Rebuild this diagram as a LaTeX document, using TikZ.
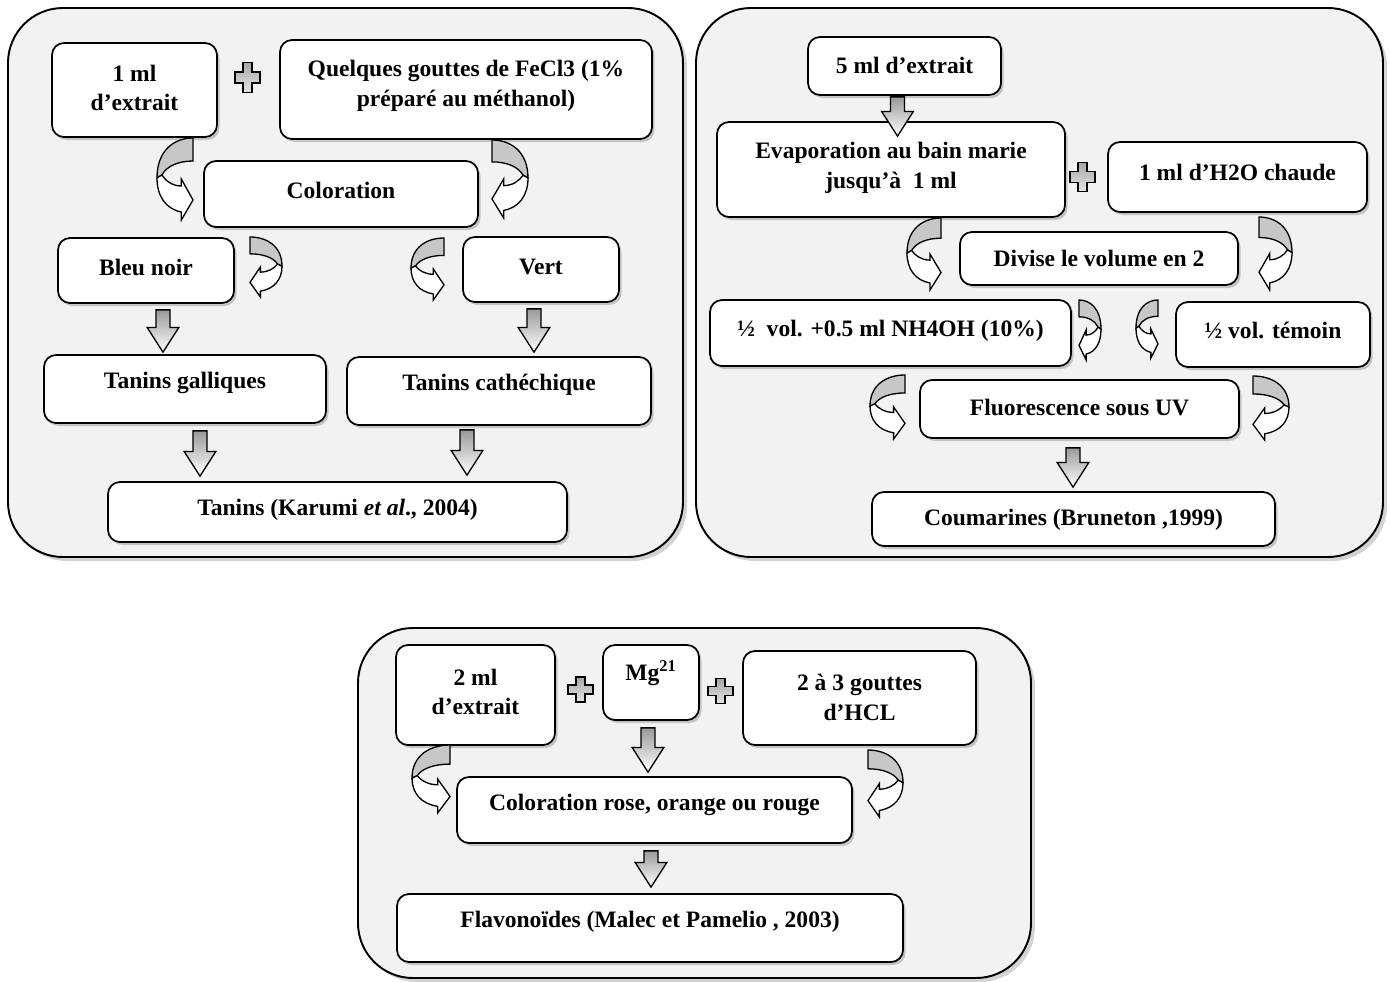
\documentclass[tikz,border=0pt]{standalone}
\usepackage{fontspec}
\setmainfont{Liberation Serif}
\usetikzlibrary{positioning,calc,shadows}

\tikzset{
  sz/.style 2 args={minimum width=#1*0.02cm, minimum height=#2*0.02cm},
  panel/.style={draw, line width=1.1pt, fill=black!5, rounded corners=1.1cm, inner sep=0pt,
    drop shadow={shadow xshift=0.08cm, shadow yshift=-0.08cm, opacity=0.35}},
  stepbox/.style={draw, line width=1pt, fill=white, rounded corners=0.24cm, inner sep=0pt,
    drop shadow={shadow xshift=0.05cm, shadow yshift=-0.06cm, opacity=0.4}},
  lbl/.style={font=\fontsize{13.4}{17}\selectfont\bfseries, align=center, inner sep=0pt},
  blockarr/.style={draw, line width=0.75pt, top color=black!40, bottom color=white,
    to path={let \p1=(\tikztostart), \p2=(\tikztotarget) in
      (\x1-4pt,\y1) -- (\x1+4pt,\y1) -- (\x1+4pt,\y2+14pt) -- (\x1+9pt,\y2+14pt)
      -- (\x1,\y2) -- (\x1-9pt,\y2+14pt) -- (\x1-4pt,\y2+14pt) -- cycle}},
  curvarr/.pic={
    \draw[line width=0.75pt, fill=black!22] (37,0) -- (37,23) .. controls (22,23) and (10,28) .. (5,37)
      -- (0,40) .. controls (0,12) and (18,0) .. (37,0) -- cycle;
    \draw[line width=0.75pt, fill=white] (0,40) .. controls (0,58) and (9,71) .. (25,74) -- (25,82)
      -- (37,62) -- (25,41) -- (25,48) .. controls (16,48) and (9,43) .. (5,37) -- cycle;
  },
  plussign/.pic={
    \draw[line width=0.7pt, top color=black!35, bottom color=black!10]
      (-4.5,-12.5) -- (4.5,-12.5) -- (4.5,-4.5) -- (12.5,-4.5) -- (12.5,4.5) -- (4.5,4.5)
      -- (4.5,12.5) -- (-4.5,12.5) -- (-4.5,4.5) -- (-12.5,4.5) -- (-12.5,-4.5) -- (-4.5,-4.5) -- cycle;
  }
}

\begin{document}
\begin{tikzpicture}[x=0.02cm, y=-0.02cm]
  \useasboundingbox (0,0) rectangle (1390,981);

  % panels
  \node[panel, sz={675}{549}] (pantan) at (345.5,282.5) {};
  \node[panel, sz={687}{549}] (pancou) at (1039.5,282.5) {};
  \node[panel, sz={673}{350}] (panfla) at (694.5,803) {};

  % tanins
  \node[stepbox, sz={165}{94}] (ext1) at (134.5,90) {};
  \node[lbl] (ext1-t) at (134.5,88) {1 ml\\d’extrait};
  \node[stepbox, sz={372}{99}] (quel) at (466,89.5) {};
  \node[lbl] (quel-t) at (466,86) {Quelques gouttes de FeCl3 (1\%\\préparé au méthanol)};
  \node[stepbox, sz={274}{66}] (colo) at (341,194) {};
  \node[lbl] (colo-t) at (341,190) {Coloration};
  \node[stepbox, sz={176}{65}] (bleu) at (146,270.5) {};
  \node[lbl] (bleu-t) at (146,267) {Bleu noir};
  \node[stepbox, sz={156}{65}] (vert) at (541,269.5) {};
  \node[lbl] (vert-t) at (541,267) {Vert};
  \node[stepbox, sz={282}{68}] (gall) at (185,389) {};
  \node[lbl] (gall-t) at (185,383) {Tanins galliques};
  \node[stepbox, sz={304}{68}] (cath) at (499,391) {};
  \node[lbl] (cath-t) at (499,385) {Tanins cathéchique};
  \node[stepbox, sz={459}{60}] (tanins) at (337.5,512) {};
  \node[lbl] (tanins-t) at (337.5,510) {Tanins (Karumi \textit{et al}., 2004)};

  % coumarines
  \node[stepbox, sz={193}{58}] (cinq) at (904.5,66) {};
  \node[lbl] (cinq-t) at (904.5,65) {5 ml d’extrait};
  \node[stepbox, sz={348}{95}] (evap) at (891,169.5) {};
  \node[lbl] (evap-t) at (891,168) {Evaporation au bain marie\\jusqu’à~ 1 ml};
  \node[stepbox, sz={259}{70}] (hdo) at (1237.5,177) {};
  \node[lbl] (hdo-t) at (1237.5,172) {1 ml d’H2O chaude};
  \node[stepbox, sz={278}{53}] (divi) at (1099,258.5) {};
  \node[lbl] (divi-t) at (1099,258) {Divise le volume en 2};
  \node[stepbox, sz={361}{66}] (nhoh) at (890.5,333) {};
  \node[lbl] (nhoh-t) at (890.5,331) {½~ vol. +0.5 ml NH4OH (10\%)};
  \node[stepbox, sz={194}{65}] (temo) at (1273,334.5) {};
  \node[lbl] (temo-t) at (1273,330) {½ vol. témoin};
  \node[stepbox, sz={319}{58}] (fluo) at (1079.5,409) {};
  \node[lbl] (fluo-t) at (1079.5,408) {Fluorescence sous UV};
  \node[stepbox, sz={403}{54}] (coum) at (1073.5,519) {};
  \node[lbl] (coum-t) at (1073.5,520) {Coumarines (Bruneton ,1999)};

  % flavonoides
  \node[stepbox, sz={159}{100}] (ext3) at (475.5,695) {};
  \node[lbl] (ext3-t) at (475.5,692) {2 ml\\d’extrait};
  \node[stepbox, sz={96}{75}] (mg) at (651,682.5) {};
  \node[lbl] (mg-t) at (651,673) {Mg\textsuperscript{21}};
  \node[stepbox, sz={233}{94}] (hcl) at (859.5,698) {};
  \node[lbl] (hcl-t) at (859.5,697) {2 à 3 gouttes\\d’HCL};
  \node[stepbox, sz={395}{66}] (rose) at (654.5,810) {};
  \node[lbl] (rose-t) at (654.5,805) {Coloration rose, orange ou rouge};
  \node[stepbox, sz={506}{68}] (flav) at (650,928) {};
  \node[lbl] (flav-t) at (650,922) {Flavonoïdes (Malec et Pamelio , 2003)};

  % plus signs
  \pic[yscale=1.2] at (247.5,77.5) {plussign};
  \pic[yscale=1.15] at (1082.5,177) {plussign};
  \pic at (580.5,689.5) {plussign};
  \pic at (720.5,691) {plussign};

  % block arrows
  \draw[blockarr] ([shift={(17,6)}]bleu.south) to ([shift={(0,-2)}]gall.north);
  \draw[blockarr] ([shift={(-7,6)}]vert.south) to ([shift={(0,-4)}]cath.north);
  \draw[blockarr] ([shift={(15,7)}]gall.south) to ([shift={(0,-5)}]tanins.north);
  \draw[blockarr] ([shift={(-32,4)}]cath.south) to ([shift={(0,-6)}]tanins.north);
  \draw[blockarr] ([shift={(-7,1)}]cinq.south) to ([shift={(0,15)}]evap.north);
  \draw[blockarr] ([shift={(-6.5,9)}]fluo.south) to ([shift={(0,-4)}]coum.north);
  \draw[blockarr] ([shift={(-3,7)}]mg.south) to ([shift={(0,-4)}]rose.north);
  \draw[blockarr] ([shift={(-3.5,7)}]rose.south) to ([shift={(0,-6)}]flav.north);

  % curved arrows
  \pic[xscale=36/37] at (157,138) {curvarr};
  \pic[xscale=-36/37, yscale=78/82] at (528,140) {curvarr};
  \pic[xscale=-32/37, yscale=60/82] at (282,237) {curvarr};
  \pic[xscale=33/37, yscale=62/82] at (411,238) {curvarr};
  \pic[xscale=34/37, yscale=72/82] at (907,218) {curvarr};
  \pic[xscale=-33/37, yscale=73/82] at (1292,217) {curvarr};
  \pic[xscale=-22/37, yscale=60/82] at (1101,300) {curvarr};
  \pic[xscale=22/37, yscale=58/82] at (1136,300) {curvarr};
  \pic[xscale=35/37, yscale=64/82] at (870,375) {curvarr};
  \pic[xscale=-36/37, yscale=64/82] at (1289,376) {curvarr};
  \pic[xscale=38/37, yscale=68/82] at (412,745) {curvarr};
  \pic[xscale=-35/37, yscale=67/82] at (903,750) {curvarr};
\end{tikzpicture}
\end{document}
